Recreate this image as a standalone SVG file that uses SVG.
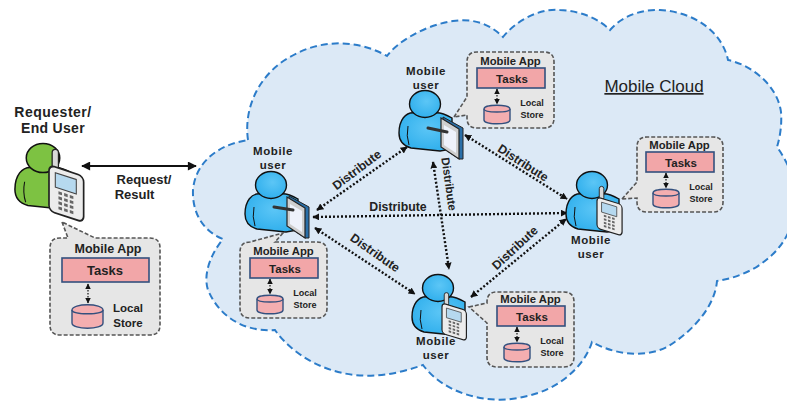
<svg xmlns="http://www.w3.org/2000/svg" width="787" height="401" viewBox="0 0 787 401">
<style>
text{font-family:"Liberation Sans",Arial,sans-serif;font-weight:700;fill:#222;text-anchor:middle}
.t{font-size:11.3px}.k{font-size:11.5px}.s{font-size:9px}.u{font-size:11.5px;letter-spacing:.6px}.d{font-size:12.3px}
.bub{fill:#e6e6e6;stroke:#555;stroke-width:1.6;stroke-dasharray:4 2}
.task{fill:#f2a6a8;stroke:#34507e;stroke-width:1.6}
.cyl{fill:#f4aeb0;stroke:#34507e;stroke-width:1.4}
.dot{fill:none;stroke:#111;stroke-width:2.4;stroke-dasharray:2 2;marker-start:url(#ah);marker-end:url(#ah)}
.mini{fill:none;stroke:#111;stroke-width:1.2;stroke-dasharray:1.6 1.4;marker-start:url(#mh);marker-end:url(#mh)}
.ol{stroke:#111;stroke-width:1.4}
.pen{stroke:#333;stroke-width:3;stroke-linecap:round}
</style>
<defs>
<marker id="ah" viewBox="0 0 10 10" refX="9" refY="5" markerWidth="7" markerHeight="7" orient="auto-start-reverse" markerUnits="userSpaceOnUse"><path d="M0 0L10 5L0 10z" fill="#111"/></marker>
<marker id="mh" viewBox="0 0 10 10" refX="9" refY="5" markerWidth="5.5" markerHeight="5.5" orient="auto-start-reverse" markerUnits="userSpaceOnUse"><path d="M0 0L10 5L0 10z" fill="#111"/></marker>
<marker id="sh" viewBox="0 0 10 10" refX="9" refY="5" markerWidth="10" markerHeight="9" orient="auto-start-reverse" markerUnits="userSpaceOnUse"><path d="M0 0L10 5L0 10z" fill="#111"/></marker>
<radialGradient id="blue" cx=".55" cy=".4" r=".7"><stop offset="0" stop-color="#5cc6f6"/><stop offset="1" stop-color="#2aaceb"/></radialGradient>
<g id="contents">
<text class="t" x="43.5" y="13">Mobile App</text>
<rect class="task" x="10" y="16" width="68" height="20"/>
<text class="k" x="45" y="30.5">Tasks</text>
<path class="mini" d="M30 37V52"/>
<path class="cyl" d="M17 57C17 52 43 52 43 57V68C43 73 17 73 17 68Z"/>
<path class="cyl" d="M17 57C17 61 43 61 43 57" fill="none"/>
<text class="s" x="65" y="54">Local</text>
<text class="s" x="65" y="66">Store</text>
</g>
<g id="body">
<path class="ol" d="M-9 9C-20 7-26 17-26 29C-26 38-21 42-14 44L15 47L27 45L27 14C20 10 14 8 9 9C4 13-4 13-9 9Z"/>
<ellipse class="ol" cx="0" cy="0" rx="15.500" ry="13.500"/>
<path d="M-17 22Q-19 32-16 41" fill="none" stroke="#111" stroke-width="1"/>
</g>
<g id="tablet">
<path d="M2 -1L22 10V41L18 41L2 30Z" fill="#2a6fa8" stroke="#222" stroke-width="1"/>
<path d="M0 0L18 11V41L0 29Z" fill="#cfcfcf" stroke="#222" stroke-width="1.2"/>
<path d="M3 7L15 14V35L3 27Z" fill="#eef2fb"/>
</g>
<g id="phone">
<rect x="3" y="-14" width="6" height="18" rx="3" fill="#d8d8d8" stroke="#222" stroke-width="1.2"/>
<g transform="skewY(17)">
<rect x="0" y="0" width="33" height="41" rx="5" fill="#ececec" stroke="#222" stroke-width="1.6"/>
<rect x="6" y="5" width="20" height="13" fill="#b6d9ef" stroke="#444"/>
<path d="M9 22H25M9 26.500H25M9 31H25M9 35.500H25" stroke="#666" stroke-width="2.6" stroke-dasharray="3.400 2" fill="none"/>
</g>
</g>
</defs>

<path id="cloud" d="M248 140C243 105 262 72 290 57C318 40 355 38 387 56C397 42 425 25 453 21C473 18 490 24 503 37C515 22 538 8 560 10C580 11 598 18 610 30C622 16 642 9 660 10C695 12 722 32 728 60C755 66 778 88 781 112C782 125 780 137 777 147C790 165 800 190 795 210C790 240 775 255 755 268C742 275 730 279 717 281C715 305 695 330 667 347C645 358 615 355 592 342C585 365 560 390 523 397C490 405 445 395 423 365C395 375 360 382 323 367C305 360 285 345 275 330C245 332 220 318 208 290C203 275 210 255 223 239C205 232 192 215 193 190C195 165 215 145 248 140Z" fill="#dce9f6" stroke="#2c7cc9" stroke-width="2" stroke-dasharray="7 4"/>

<g id="connectors">
<path d="M82 166H196" stroke="#111" stroke-width="2" marker-start="url(#sh)" marker-end="url(#sh)" fill="none"/>
<path class="dot" d="M317 210L407 147"/>
<path class="dot" d="M313 217L567 213"/>
<path class="dot" d="M315 228L415 294"/>
<path class="dot" d="M465 135L567 199"/>
<path class="dot" d="M433 162L449 269"/>
<path class="dot" d="M471 297L566 219"/>
<text class="d" transform="translate(357 170) rotate(-37)" dy="4">Distribute</text>
<text class="d" x="398" y="211">Distribute</text>
<text class="d" transform="translate(375 253) rotate(35)" dy="4">Distribute</text>
<text class="d" transform="translate(523 163) rotate(33)" dy="4">Distribute</text>
<text class="d" transform="translate(449 184) rotate(82)" dy="4" style="font-size:11.5px">Distribute</text>
<text class="d" transform="translate(515 248) rotate(-43)" dy="4">Distribute</text>
</g>

<text x="654" y="92" font-size="17px" style="font-weight:400;text-decoration:underline dotted">Mobile Cloud</text>

<g id="requester">
<text x="53" y="117" font-size="14px" letter-spacing=".5">Requester/</text>
<text x="53" y="133" font-size="14px" letter-spacing=".3">End User</text>
<g fill="#7dc242"><use href="#body" transform="translate(43 158) scale(1.08)"/></g>
<use href="#phone" transform="translate(49 165) scale(1.05 1.12)"/>
<text x="144" y="184" font-size="13px">Request/</text>
<text x="134.500" y="199" font-size="13px">Result</text>
<path class="bub" d="M62 222L68 238H60Q50 238 50 248V325Q50 335 60 335H150Q160 335 160 325V248Q160 238 150 238H95Z"/>
<text x="108" y="252.500" font-size="12.500px">Mobile App</text>
<rect class="task" x="62" y="258" width="87" height="24"/>
<text x="105" y="274.500" font-size="13px">Tasks</text>
<path class="mini" d="M88 284V303"/>
<path class="cyl" d="M72 310C72 303 103 303 103 310V323C103 330 72 330 72 323Z"/>
<path class="cyl" d="M72 310C72 315 103 315 103 310"/>
<text x="128" y="312" font-size="11.500px">Local</text>
<text x="128" y="326.500" font-size="11.500px">Store</text>
</g>

<g id="user-left">
<text class="u" x="273" y="155">Mobile</text><text class="u" x="273" y="168.500">user</text>
<g fill="url(#blue)"><use href="#body" transform="translate(271 185)"/></g>
<use href="#tablet" transform="translate(287 197)"/>
<path class="pen" d="M274 207L293 210"/>
<path class="bub" d="M283 233L275 242H317Q327 242 327 252V308Q327 318 317 318H250Q240 318 240 308V252Q240 242 250 242Z"/>
<use href="#contents" transform="translate(240 242)"/>
</g>

<g id="user-top">
<text class="u" x="426" y="75">Mobile</text><text class="u" x="426" y="88.500">user</text>
<g fill="url(#blue)"><use href="#body" transform="translate(425 104)"/></g>
<use href="#tablet" transform="translate(441 118)"/>
<path class="pen" d="M428 128L447 132"/>
<path class="bub" d="M454 117L467 97V62Q467 52 477 52H544Q554 52 554 62V118Q554 128 544 128H477Q467 128 467 118V115Z"/>
<use href="#contents" transform="translate(467 52)"/>
</g>

<g id="user-bottom">
<g fill="url(#blue)"><use href="#body" transform="translate(438 288)"/></g>
<use href="#phone" transform="translate(442 303) scale(.74)"/>
<text class="u" x="436" y="345">Mobile</text><text class="u" x="436" y="358.500">user</text>
<path class="bub" d="M469 307L487 303V302Q487 292 497 292H564Q574 292 574 302V357Q574 367 564 367H497Q487 367 487 357V323Z"/>
<use href="#contents" transform="translate(487 290)"/>
</g>

<g id="user-right">
<text class="u" x="591" y="244">Mobile</text><text class="u" x="591" y="257.500">user</text>
<g fill="url(#blue)"><use href="#body" transform="translate(592 185)"/></g>
<use href="#phone" transform="translate(597 197) scale(.76)"/>
<path class="bub" d="M622 199L637 182V147Q637 137 647 137H713Q723 137 723 147V202Q723 212 713 212H647Q637 212 637 202V198Z"/>
<use href="#contents" transform="translate(636 136)"/>
</g>
</svg>
